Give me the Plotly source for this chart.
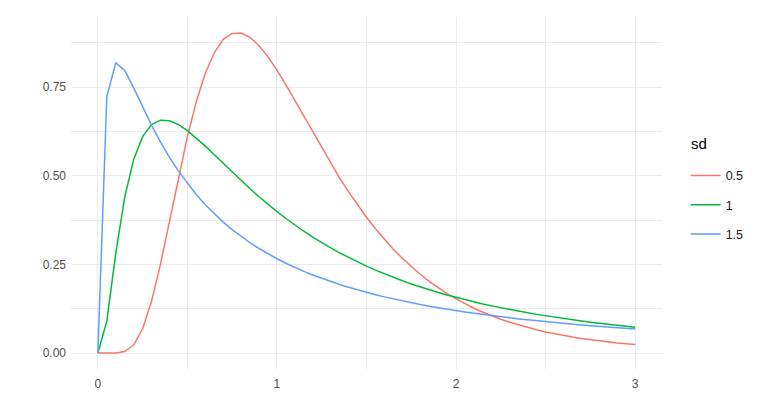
import plotly.graph_objects as go

x_vals = [0.00, 0.05, 0.10, 0.15, 0.20, 0.25, 0.30, 0.35, 0.40, 0.45, 0.50, 0.55, 0.60, 0.65, 0.70,
          0.75, 0.80, 0.85, 0.90, 0.95, 1.00, 1.05, 1.10, 1.15, 1.20, 1.25, 1.30, 1.35, 1.40, 1.45,
          1.50, 1.55, 1.60, 1.65, 1.70, 1.75, 1.80, 1.85, 1.90, 1.95, 2.00, 2.05, 2.10, 2.15, 2.20,
          2.25, 2.30, 2.35, 2.40, 2.45, 2.50, 2.55, 2.60, 2.65, 2.70, 2.75, 2.80, 2.85, 2.90, 2.95, 3.00]

sd_05 = [0.0, 0.0, 0.0002, 0.0040, 0.0225, 0.0684, 0.1465, 0.2515, 0.3721, 0.4953, 0.6105, 0.7098,
         0.7891, 0.8469, 0.8848, 0.9016, 0.9028, 0.8904, 0.8671, 0.8355, 0.7979, 0.7563, 0.7123,
         0.6672, 0.6221, 0.5778, 0.5348, 0.4936, 0.4544, 0.4175, 0.3829, 0.3506, 0.3206, 0.2928,
         0.2673, 0.2437, 0.2221, 0.2023, 0.1842, 0.1677, 0.1526, 0.1389, 0.1264, 0.1150, 0.1046,
         0.0952, 0.0866, 0.0789, 0.0718, 0.0654, 0.0595, 0.0542, 0.0494, 0.0451, 0.0411, 0.0375,
         0.0342, 0.0312, 0.0285, 0.0260, 0.0238]

sd_1 = [0.0, 0.0898, 0.2816, 0.4398, 0.5463, 0.6105, 0.6442, 0.6569, 0.6554, 0.6445, 0.6275, 0.6067,
        0.5836, 0.5594, 0.5348, 0.5104, 0.4864, 0.4632, 0.4408, 0.4194, 0.3989, 0.3795, 0.3610,
        0.3435, 0.3270, 0.3113, 0.2965, 0.2825, 0.2693, 0.2568, 0.2450, 0.2338, 0.2233, 0.2133,
        0.2039, 0.1949, 0.1865, 0.1785, 0.1709, 0.1637, 0.1569, 0.1504, 0.1443, 0.1384, 0.1329,
        0.1276, 0.1226, 0.1179, 0.1133, 0.1090, 0.1049, 0.1010, 0.0972, 0.0936, 0.0902, 0.0870,
        0.0839, 0.0809, 0.0781, 0.0753, 0.0727]

sd_15 = [0.0, 0.7240, 0.8187, 0.7969, 0.7478, 0.6941, 0.6424, 0.5948, 0.5517, 0.5130, 0.4781, 0.4467,
         0.4183, 0.3926, 0.3694, 0.3482, 0.3288, 0.3111, 0.2948, 0.2798, 0.2660, 0.2532, 0.2413,
         0.2303, 0.2200, 0.2104, 0.2015, 0.1931, 0.1853, 0.1779, 0.1710, 0.1644, 0.1583, 0.1525,
         0.1470, 0.1418, 0.1368, 0.1322, 0.1277, 0.1235, 0.1195, 0.1157, 0.1121, 0.1086, 0.1053,
         0.1021, 0.0991, 0.0962, 0.0935, 0.0908, 0.0883, 0.0858, 0.0835, 0.0813, 0.0791, 0.0770,
         0.0751, 0.0731, 0.0713, 0.0695, 0.0678]

series_names = ["0.5", "1", "1.5"]
series_vals = [sd_05, sd_1, sd_15]
series_colors = ["#F8766D", "#00BA38", "#619CFF"]
legend_title = "sd"

x_ticks = [0, 1, 2, 3]
y_ticks = [0.0, 0.25, 0.50, 0.75]
y_tick_labels = ["0.00", "0.25", "0.50", "0.75"]

fig = go.Figure()
for name, vals, col in zip(series_names, series_vals, series_colors):
    fig.add_trace(go.Scatter(x=x_vals, y=vals, mode="lines", name=name,
                             legendgroup=name,
                             line=dict(color=col, width=1.5)))

fig.add_annotation(text=legend_title, xref="paper", yref="paper", x=1.045, y=0.642,
                   xanchor="left", yanchor="middle", showarrow=False,
                   font=dict(size=15, color="black"))

grid = "#EBEBEB"
fig.update_layout(
    width=770, height=407,
    margin=dict(l=63, r=116, t=9, b=46),
    paper_bgcolor="white", plot_bgcolor="white",
    font=dict(family="Liberation Sans, Arial, sans-serif", color="#4D4D4D", size=12),
    legend=dict(font=dict(size=12.5, color="#1A1A1A"),
                x=1.04, xanchor="left", y=0.591, yanchor="top",
                tracegroupgap=10, itemwidth=30),
    xaxis=dict(range=[-0.15, 3.15], tickvals=x_ticks, ticktext=[str(v) for v in x_ticks],
               showgrid=True, gridcolor=grid, gridwidth=1.3, zeroline=False, showline=False,
               ticks="", ticklabelstandoff=6, automargin=False,
               minor=dict(dtick=0.5, tick0=0, showgrid=True, gridcolor=grid, gridwidth=0.7)),
    yaxis=dict(range=[-0.04514, 0.94795], tickvals=y_ticks, ticktext=y_tick_labels,
               showgrid=True, gridcolor=grid, gridwidth=1.3, zeroline=False, showline=False,
               ticks="", ticklabelstandoff=4, automargin=False,
               minor=dict(dtick=0.125, tick0=0, showgrid=True, gridcolor=grid, gridwidth=0.7)),
)

fig.write_html("out.html")
